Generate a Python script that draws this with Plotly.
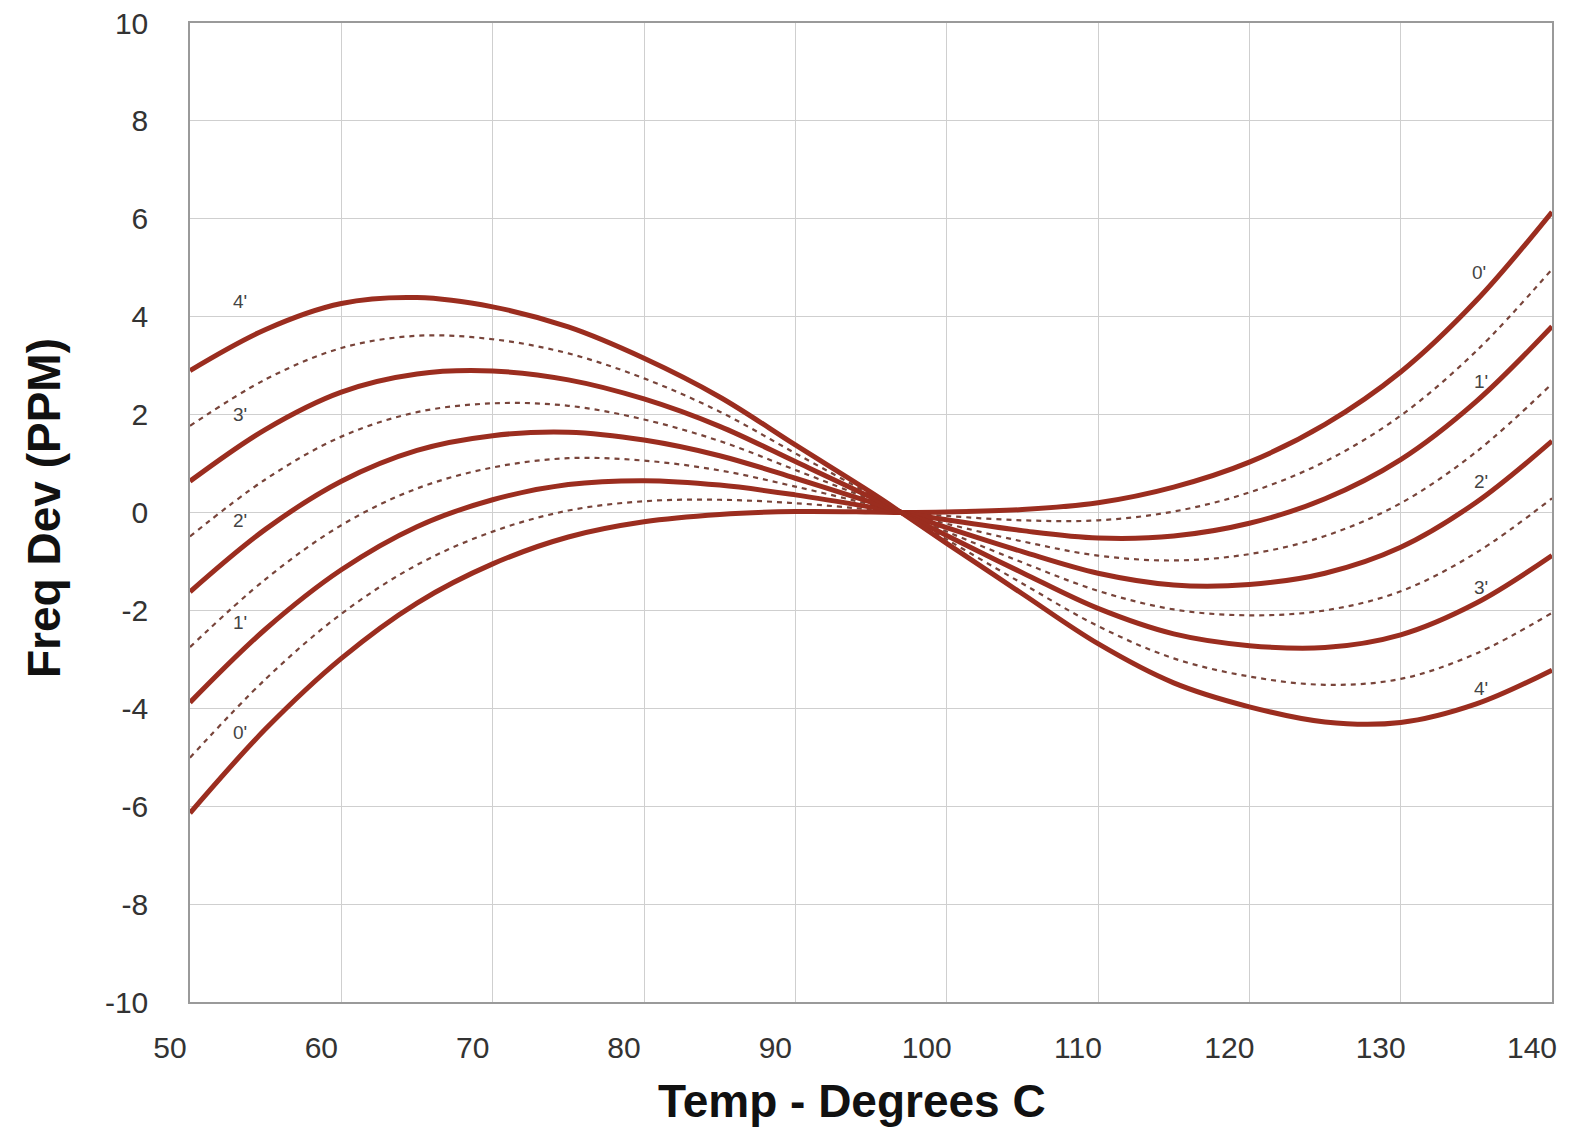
import plotly.graph_objects as go

# Temperature points (deg C)
temp = [50, 55, 60, 65, 70, 75, 80, 85, 90, 95, 97, 100, 105, 110, 115, 120, 125, 130, 135, 140]

# Solid curves (angle offsets) (PPM)
c0 = [-6.14, -4.42, -2.98, -1.85, -1.05, -0.50, -0.19, -0.04, 0.02, 0.01, 0.0, 0.01, 0.06, 0.20, 0.52, 1.03, 1.80, 2.87, 4.33, 6.14]
c1 = [-3.88, -2.38, -1.17, -0.29, 0.26, 0.57, 0.65, 0.56, 0.36, 0.11, 0.0, -0.15, -0.37, -0.52, -0.48, -0.22, 0.28, 1.08, 2.27, 3.80]
c2 = [-1.62, -0.34, 0.64, 1.27, 1.57, 1.64, 1.48, 1.16, 0.70, 0.21, 0.0, -0.31, -0.80, -1.24, -1.48, -1.47, -1.24, -0.71, 0.21, 1.46]
c3 = [0.64, 1.70, 2.46, 2.83, 2.89, 2.71, 2.32, 1.76, 1.04, 0.31, 0.0, -0.47, -1.23, -1.96, -2.48, -2.72, -2.76, -2.50, -1.85, -0.88]
c4 = [2.90, 3.74, 4.27, 4.39, 4.20, 3.79, 3.15, 2.36, 1.38, 0.41, 0.0, -0.63, -1.66, -2.68, -3.48, -3.97, -4.28, -4.29, -3.91, -3.22]

# Dashed (half-step) curves
d05 = [-5.01, -3.40, -2.07, -1.07, -0.39, 0.04, 0.23, 0.26, 0.19, 0.06, 0.0, -0.07, -0.16, -0.16, 0.02, 0.41, 1.04, 1.98, 3.30, 4.97]
d15 = [-2.75, -1.36, -0.26, 0.49, 0.92, 1.11, 1.06, 0.86, 0.53, 0.16, 0.0, -0.23, -0.59, -0.88, -0.98, -0.85, -0.48, 0.19, 1.24, 2.63]
d25 = [-0.49, 0.68, 1.55, 2.05, 2.23, 2.18, 1.90, 1.46, 0.87, 0.26, 0.0, -0.39, -1.02, -1.60, -1.98, -2.10, -2.00, -1.61, -0.82, 0.29]
d35 = [1.77, 2.72, 3.36, 3.61, 3.54, 3.25, 2.74, 2.06, 1.21, 0.36, 0.0, -0.55, -1.45, -2.32, -2.98, -3.35, -3.52, -3.40, -2.88, -2.05]

solid_series = [c0, c1, c2, c3, c4]
dashed_series = [d05, d15, d25, d35]

# Curve labels
left_label_text = ["4'", "3'", "2'", "1'", "0'"]
left_label_x = [53.3, 53.3, 53.3, 53.3, 53.3]
left_label_y = [4.31, 2.0, -0.17, -2.25, -4.49]
right_label_text = ["0'", "1'", "2'", "3'", "4'"]
right_label_x = [135.2, 135.3, 135.3, 135.3, 135.3]
right_label_y = [4.91, 2.67, 0.63, -1.53, -3.6]

x_ticks = [50, 60, 70, 80, 90, 100, 110, 120, 130, 140]
y_ticks = [-10, -8, -6, -4, -2, 0, 2, 4, 6, 8, 10]

FONT = "Liberation Sans, Arial, sans-serif"
SOLID = "#9B2D1F"
DASH = "rgb(120,68,58)"

# the page body adds an 8px offset; size the figure so the plot lands where the reference has it
OFF = 8
W, H = 1578 - OFF, 1127 - OFF
L, R, T, B = 190 - OFF, 26, 23 - OFF, 125
pw, ph = W - L - R, H - T - B


def paper_x(screen_x):
    return (screen_x - OFF - L) / pw


def paper_y(screen_y):
    return (H - B - (screen_y - OFF)) / ph


fig = go.Figure()
for s in dashed_series:
    fig.add_trace(go.Scatter(x=temp, y=s, mode="lines",
                             line=dict(color=DASH, width=2.2, dash="5px,5px", shape="spline", smoothing=1.0),
                             hoverinfo="skip", showlegend=False))
for s in solid_series:
    fig.add_trace(go.Scatter(x=temp, y=s, mode="lines",
                             line=dict(color=SOLID, width=5, shape="spline", smoothing=1.0),
                             hoverinfo="skip", showlegend=False))

annotations = []
for t, x, y in zip(left_label_text, left_label_x, left_label_y):
    annotations.append(dict(x=x, y=y, xref="x", yref="y", text=t, showarrow=False,
                            xanchor="center", yanchor="middle",
                            font=dict(family=FONT, size=19, color="#444")))
for t, x, y in zip(right_label_text, right_label_x, right_label_y):
    annotations.append(dict(x=x, y=y, xref="x", yref="y", text=t, showarrow=False,
                            xanchor="center", yanchor="middle",
                            font=dict(family=FONT, size=19, color="#444")))

annotations.append(dict(x=paper_x(852), y=paper_y(1101), xref="paper", yref="paper",
                        xanchor="center", yanchor="middle",
                        text="<b>Temp - Degrees C</b>", showarrow=False,
                        font=dict(family=FONT, size=46, color="#111")))
annotations.append(dict(x=paper_x(44), y=paper_y(508), xref="paper", yref="paper",
                        xanchor="center", yanchor="middle",
                        text="<b>Freq Dev (PPM)</b>", textangle=-90, showarrow=False,
                        font=dict(family=FONT, size=46, color="#111")))

fig.update_layout(
    width=W, height=H,
    margin=dict(l=L, r=R, t=T, b=B, autoexpand=False),
    paper_bgcolor="white", plot_bgcolor="white",
    showlegend=False,
    font=dict(family=FONT, color="#333"),
    annotations=annotations,
)

fig.update_xaxes(range=[50, 140], tickmode="array", tickvals=x_ticks, ticktext=[str(v) for v in x_ticks],
                 showgrid=True, gridcolor="#cfcfcf", gridwidth=1, automargin=False,
                 showline=True, linecolor="#9a9a9a", linewidth=1.5, mirror=True,
                 zeroline=False, ticks="", tickfont=dict(family=FONT, size=30, color="#333"),
                 ticklabelstandoff=18, ticklabelshift=-20, ticklabeloverflow="allow")
fig.update_yaxes(range=[-10, 10], tickmode="array", tickvals=y_ticks, ticktext=[str(v) for v in y_ticks],
                 showgrid=True, gridcolor="#cfcfcf", gridwidth=1, automargin=False,
                 showline=True, linecolor="#9a9a9a", linewidth=1.5, mirror=True,
                 zeroline=False, ticks="", tickfont=dict(family=FONT, size=30, color="#333"),
                 ticklabelstandoff=34, ticklabeloverflow="allow")

fig.write_html("out.html")
